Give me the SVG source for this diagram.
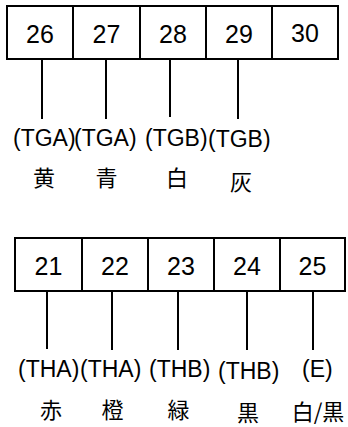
<svg xmlns="http://www.w3.org/2000/svg" width="348" height="427" viewBox="0 0 348 427">
<style>
.cell{fill:#fff;stroke:#000;stroke-width:2}
.num{font-family:"Liberation Sans",Arial,sans-serif;font-size:25px;text-anchor:middle;fill:#000}
.lbl{font-family:"Liberation Sans",Arial,sans-serif;font-size:23px;fill:#000}
.cj{font-family:"Noto Sans CJK JP","Noto Sans CJK SC",sans-serif;font-size:22px;text-anchor:middle;fill:#000}
.wire{stroke:#000;stroke-width:2;fill:none}
</style>
<rect width="348" height="427" fill="#fff"/>
<g id="connectors">
<line class="wire" x1="42" y1="59" x2="42" y2="119"/>
<line class="wire" x1="106" y1="59" x2="106" y2="119"/>
<line class="wire" x1="170" y1="59" x2="170" y2="117"/>
<line class="wire" x1="238" y1="59" x2="238" y2="119"/>
<line class="wire" x1="47" y1="291" x2="47" y2="349"/>
<line class="wire" x1="112" y1="291" x2="112" y2="350"/>
<line class="wire" x1="178" y1="291" x2="178" y2="350"/>
<line class="wire" x1="247" y1="291" x2="247" y2="350"/>
<line class="wire" x1="313" y1="291" x2="313" y2="350"/>
</g>
<g id="t26"><rect class="cell" x="7" y="6" width="66" height="53"/><text class="num" x="40" y="43">26</text><text class="lbl" x="13" y="146">(TGA)</text><text class="cj" x="44" y="186">黄</text></g>
<g id="t27"><rect class="cell" x="73" y="6" width="67" height="53"/><text class="num" x="106.5" y="43">27</text><text class="lbl" x="74" y="146">(TGA)</text><text class="cj" x="106.5" y="186">青</text></g>
<g id="t28"><rect class="cell" x="140" y="6" width="66" height="53"/><text class="num" x="173" y="43">28</text><text class="lbl" x="145" y="146">(TGB)</text><text class="cj" x="177" y="186">白</text></g>
<g id="t29"><rect class="cell" x="206" y="6" width="66" height="53"/><text class="num" x="239" y="43">29</text><text class="lbl" x="208" y="147">(TGB)</text><text class="cj" x="241" y="190">灰</text></g>
<g id="t30"><rect class="cell" x="272" y="6" width="66" height="53"/><text class="num" x="305" y="42">30</text></g>
<g id="t21"><rect class="cell" x="15" y="238" width="67" height="53"/><text class="num" x="48.5" y="275">21</text><text class="lbl" x="18" y="377">(THA)</text><text class="cj" x="51" y="418">赤</text></g>
<g id="t22"><rect class="cell" x="82" y="238" width="66" height="53"/><text class="num" x="115" y="275">22</text><text class="lbl" x="80" y="377">(THA)</text><text class="cj" x="112.5" y="418">橙</text></g>
<g id="t23"><rect class="cell" x="148" y="238" width="66" height="53"/><text class="num" x="181" y="275">23</text><text class="lbl" x="149" y="377">(THB)</text><text class="cj" x="178.5" y="418">緑</text></g>
<g id="t24"><rect class="cell" x="214" y="238" width="66" height="53"/><text class="num" x="247" y="275">24</text><text class="lbl" x="218" y="379">(THB)</text><text class="cj" x="248" y="421">黒</text></g>
<g id="t25"><rect class="cell" x="280" y="238" width="65" height="53"/><text class="num" x="312.5" y="275">25</text><text class="lbl" x="302" y="377">(E)</text><text class="cj" x="318" y="420">白/黒</text></g>
</svg>
